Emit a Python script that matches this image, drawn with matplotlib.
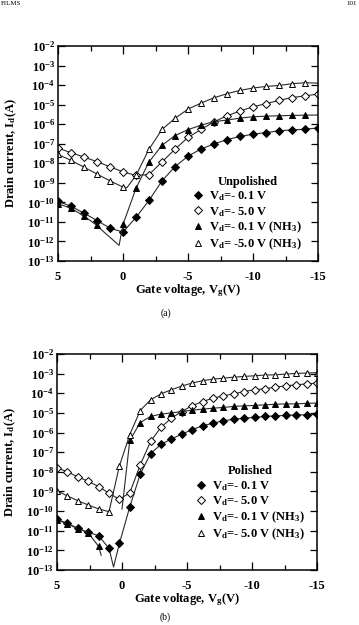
import numpy as np
import matplotlib
matplotlib.use('Agg')
import matplotlib.pyplot as plt
from matplotlib.lines import Line2D
from matplotlib.ticker import NullLocator, FixedLocator

plt.rcParams['font.family'] = ['Liberation Serif', 'DejaVu Serif']
plt.rcParams['font.weight'] = 'bold'
plt.rcParams['axes.labelweight'] = 'bold'
plt.rcParams['mathtext.fontset'] = 'custom'
plt.rcParams['mathtext.rm'] = 'Liberation Serif:bold'
plt.rcParams['mathtext.it'] = 'Liberation Serif:bold'
plt.rcParams['mathtext.bf'] = 'Liberation Serif:bold'

# ---- data: gate voltage (V) and log10 of drain current (A) ----
# (a) unpolished, 1 V steps
a_x_full = [5, 4, 3, 2, 1, 0, -1, -2, -3, -4, -5, -6, -7, -8, -9, -10, -11, -12, -13, -14, -15]
a_vd01 = [-9.95, -10.2, -10.55, -10.93, -11.32, -11.52, -10.77, -9.9, -8.9, -8.17, -7.64,
          -7.27, -7.01, -6.79, -6.63, -6.51, -6.43, -6.34, -6.29, -6.26, -6.19]
a_vd50 = [-7.22, -7.46, -7.68, -7.92, -8.18, -8.44, -8.62, -8.58, -7.93, -7.28, -6.68,
          -6.27, -5.88, -5.57, -5.33, -5.11, -4.95, -4.78, -4.64, -4.55, -4.46]

a_x_nh3_01 = [5, 4, 3, 2, 1.6, 0.3, 0, -1, -2, -3, -4, -5, -6, -7, -8, -9, -10, -11, -12, -13, -14, -15]
a_vd01_nh3 = [-10.07, -10.3, -10.7, -11.18, -11.44, -12.2, -11.13, -9.28, -7.93, -7.08, -6.58,
              -6.28, -6.05, -5.87, -5.79, -5.69, -5.62, -5.59, -5.57, -5.55, -5.54, -5.53]
a_marks_nh3_01 = [0, 1, 2, 3, 6, 7, 8, 9, 10, 11, 12, 13, 14, 15, 16, 17, 18, 19, 20]

a_x_nh3_50 = [5, 4, 3, 2, 1, 0, -0.3, -1, -2, -3, -4, -5, -6, -7, -8, -9, -10, -11, -12, -13, -14, -15]
a_vd50_nh3 = [-7.55, -7.85, -8.2, -8.55, -8.9, -9.22, -9.25, -8.62, -7.28, -6.27, -5.7,
              -5.23, -4.92, -4.65, -4.44, -4.27, -4.15, -4.07, -4.02, -3.93, -3.88, -3.9]
a_marks_nh3_50 = [0, 1, 2, 3, 4, 5, 7, 8, 9, 10, 11, 12, 13, 14, 15, 16, 17, 18, 19, 20]

# (b) polished, 0.8 V steps
b_x_full = [5.0, 4.2, 3.4, 2.6, 1.8, 1.0, 0.2, -0.6, -1.4, -2.2, -3.0, -3.8, -4.6, -5.4,
            -6.2, -7.0, -7.8, -8.6, -9.4, -10.2, -11.0, -11.8, -12.6, -13.4, -14.2, -15.0]
b_x_vd01 = [5.0, 4.2, 3.4, 2.6, 1.8, 1.0, 0.65, 0.2, -0.6, -1.4, -2.2, -3.0, -3.8, -4.6, -5.4,
            -6.2, -7.0, -7.8, -8.6, -9.4, -10.2, -11.0, -11.8, -12.6, -13.4, -14.2, -15.0]
b_vd01 = [-10.42, -10.62, -10.88, -11.08, -11.25, -11.9, -12.85, -11.65, -9.78, -8.12, -7.07,
          -6.6, -6.33, -6.08, -5.85, -5.66, -5.52, -5.4, -5.32, -5.27, -5.23, -5.18, -5.15,
          -5.13, -5.1, -5.1, -5.08]
b_marks_vd01 = [0, 1, 2, 3, 4, 5] + list(range(7, 27))

b_vd50 = [-7.8, -8.0, -8.26, -8.48, -8.75, -9.09, -9.4, -9.07, -7.65, -6.45, -5.73, -5.27,
          -4.93, -4.63, -4.42, -4.25, -4.13, -4.03, -3.91, -3.82, -3.77, -3.69, -3.62, -3.57,
          -3.52, -3.48]

b_x_nh3_01 = [5.0, 4.2, 3.4, 2.6, 1.8, 1.6, 0.8, 0.0, -0.6, -1.4, -2.2, -3.0, -3.8, -4.6, -5.4,
              -6.2, -7.0, -7.8, -8.6, -9.4, -10.2, -11.0, -11.8, -12.6, -13.4, -14.2, -15.0]
b_vd01_nh3 = [-10.45, -10.65, -10.9, -11.1, -11.8, -12.25, np.nan, -9.9, -6.4, -5.49, -5.18,
              -5.06, -5.0, -4.93, -4.86, -4.81, -4.76, -4.72, -4.67, -4.64, -4.62, -4.59,
              -4.56, -4.54, -4.54, -4.51, -4.5]
b_marks_nh3_01 = [0, 1, 2, 3, 4] + list(range(8, 27))

b_vd50_nh3 = [-8.96, -9.23, -9.47, -9.69, -9.89, -10.03, -7.7, -6.1, -4.88, -4.33, -4.03,
              -3.82, -3.63, -3.48, -3.36, -3.28, -3.23, -3.18, -3.14, -3.11, -3.07, -3.06,
              -3.02, -2.99, -2.97, -2.95]

y_exponents = [-2, -3, -4, -5, -6, -7, -8, -9, -10, -11, -12, -13]
x_ticks = [5, 0, -5, -10, -15]
x_tick_labels = ['5', '0', '-5', '-10', '-15']
x_minor = [2.5, -2.5, -7.5, -12.5]

labels_a = [r'V$_\mathrm{d}$=- 0.1 V', r'V$_\mathrm{d}$=- 5.0 V',
            r'V$_\mathrm{d}$=- 0.1 V (NH$_\mathrm{3}$)', r'V$_\mathrm{d}$= -5.0 V (NH$_\mathrm{3}$)']
labels_b = [r'V$_\mathrm{d}$=- 0.1 V', r'V$_\mathrm{d}$=- 5.0 V',
            r'V$_\mathrm{d}$=- 0.1 V (NH$_\mathrm{3}$)', r'V$_\mathrm{d}$=- 5.0 V (NH$_\mathrm{3}$)']

# marker styles: filled diamond, open diamond, filled triangle, open triangle
styles = [dict(marker='D', ms=3.6, mfc='black'),
          dict(marker='D', ms=3.6, mfc='white'),
          dict(marker='^', ms=4.6, mfc='black'),
          dict(marker='^', ms=4.6, mfc='white')]

LINE = '#2a2a2a'
FS = 9


def draw_panel(ax, series, title, labels, anchor):
    for (x, y, marks), st in zip(series, styles):
        ax.plot(x, 10.0 ** np.array(y, dtype=float), color=LINE, lw=0.8,
                mec='black', mew=0.7, markevery=marks, **st)

    ax.set_yscale('log')
    ax.set_ylim(1e-13, 1e-2)
    ax.set_xlim(5, -15)
    ax.yaxis.set_major_locator(FixedLocator([10.0 ** e for e in y_exponents]))
    ax.yaxis.set_minor_locator(NullLocator())
    ax.set_yticklabels([r'10$^{%d}$' % e for e in y_exponents], fontweight='bold')
    ax.set_xticks(x_ticks)
    ax.set_xticklabels(x_tick_labels, fontweight='bold')
    ax.xaxis.set_minor_locator(FixedLocator(x_minor))
    ax.tick_params(which='both', direction='in', top=True, right=True, width=0.9)
    ax.tick_params(axis='y', which='major', length=5, pad=2, labelsize=FS)
    ax.tick_params(axis='x', which='major', length=6, pad=7, labelsize=FS)
    ax.tick_params(axis='x', which='minor', length=3.5)
    for sp in ax.spines.values():
        sp.set_linewidth(1.1)

    ax.set_ylabel(r'Drain current, I$_\mathrm{d}$(A)', fontsize=FS, fontweight='bold')
    ax.yaxis.set_label_coords(-0.15, 0.5)
    ax.set_xlabel(r'Gate voltage, V$_\mathrm{g}$(V)', fontsize=FS, fontweight='bold')
    ax.xaxis.set_label_coords(0.5, -0.1)

    handles = [Line2D([], [], ls='none', mec='black', mew=0.7, **st) for st in styles]
    leg = ax.legend(handles, labels, title=title, loc='lower right', bbox_to_anchor=anchor,
                    frameon=False, fontsize=FS, title_fontsize=FS, borderpad=0,
                    borderaxespad=0, handlelength=0.8, handletextpad=0.5, labelspacing=0.12)
    leg.get_title().set_fontweight('bold')
    for t in leg.get_texts():
        t.set_fontweight('bold')


fig = plt.figure(figsize=(3.59, 6.25), dpi=100)
ax_a = fig.add_axes([58 / 359, 1 - 261 / 625, 260 / 359, 215 / 625])
ax_b = fig.add_axes([57 / 359, 1 - 570 / 625, 260 / 359, 216 / 625])

series_a = [(a_x_full, a_vd01, None), (a_x_full, a_vd50, None),
            (a_x_nh3_01, a_vd01_nh3, a_marks_nh3_01), (a_x_nh3_50, a_vd50_nh3, a_marks_nh3_50)]
series_b = [(b_x_vd01, b_vd01, b_marks_vd01), (b_x_full, b_vd50, None),
            (b_x_nh3_01, b_vd01_nh3, b_marks_nh3_01), (b_x_full, b_vd50_nh3, None)]

draw_panel(ax_a, series_a, 'Unpolished', labels_a, (0.94, 0.04))
draw_panel(ax_b, series_b, 'Polished', labels_b, (0.955, 0.13))

fig.text(166 / 359, 1 - 313 / 625, '(a)', ha='center', va='center', fontsize=7, fontweight='normal')
fig.text(165 / 359, 1 - 617 / 625, '(b)', ha='center', va='center', fontsize=7, fontweight='normal')
fig.text(0.003, 0.998, 'FILMS', ha='left', va='top', fontsize=5, fontweight='normal')
fig.text(0.995, 0.998, '101', ha='right', va='top', fontsize=5, fontweight='normal')

fig.savefig('out.png', dpi=100)
